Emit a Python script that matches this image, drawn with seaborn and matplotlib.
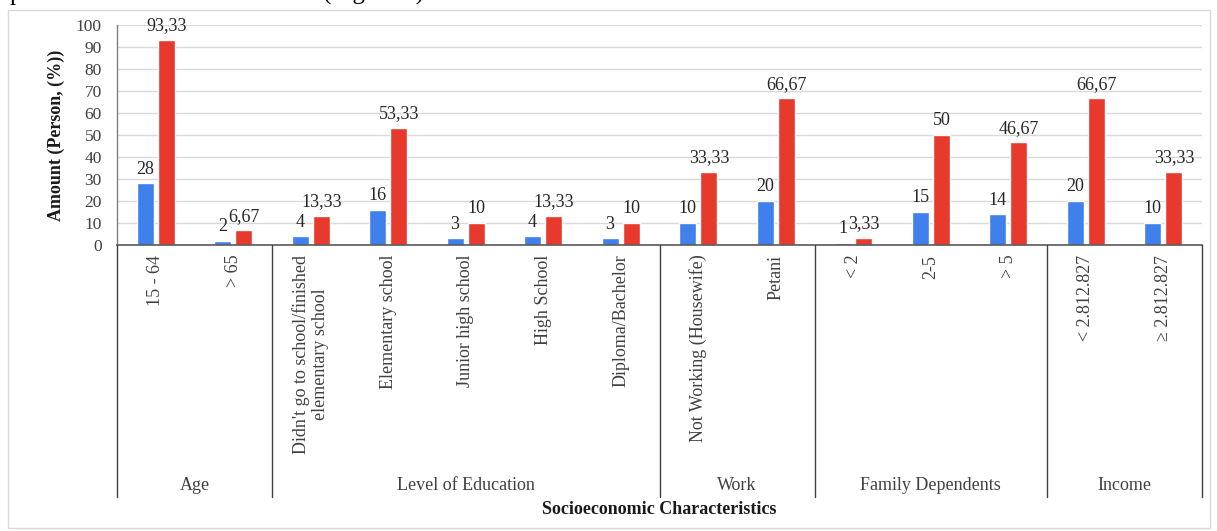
import matplotlib
matplotlib.use("Agg")
import matplotlib.pyplot as plt
import matplotlib.transforms as mtransforms
from matplotlib.patches import Rectangle
from matplotlib.lines import Line2D
import pandas as pd
import seaborn as sns

# ---- data -------------------------------------------------------------
categories = [
    "15 - 64", "> 65",
    "Didn't go to school/finished\nelementary school", "Elementary school",
    "Junior high school", "High School", "Diploma/Bachelor",
    "Not Working (Housewife)", "Petani",
    "< 2", "2-5", "> 5",
    "< 2.812.827", "\u2265 2.812.827",
]
person = [28, 2, 4, 16, 3, 4, 3, 10, 20, 1, 15, 14, 20, 10]
percent = [93.33, 6.67, 13.33, 53.33, 10, 13.33, 10, 33.33, 66.67,
           3.33, 50, 46.67, 66.67, 33.33]
groups = ["Age", "Level of Education", "Work", "Family Dependents", "Income"]
group_sizes = [2, 5, 2, 3, 2]
y_ticks = [0, 10, 20, 30, 40, 50, 60, 70, 80, 90, 100]
series_names = ["Person", "Percentage"]
series_colors = ["#3f80ec", "#e8392d"]

# ---- figure -----------------------------------------------------------
sns.set_theme(style="white")
plt.rcParams["font.family"] = ["Liberation Serif", "DejaVu Serif"]

W, H = 1217, 531
fig = plt.figure(figsize=(W / 100, H / 100), dpi=100)
fig.patch.set_facecolor("white")

left, right, top, bottom = 117, 1202, 25, 245
ax = fig.add_axes([left / W, 1 - bottom / H, (right - left) / W, (bottom - top) / H])

df = pd.DataFrame({
    "category": categories * 2,
    "series": [series_names[0]] * len(categories) + [series_names[1]] * len(categories),
    "value": person + percent,
})

sns.barplot(data=df, x="category", y="value", hue="series",
            order=categories, hue_order=series_names,
            palette=series_colors, width=0.55, gap=0.2,
            saturation=1, legend=False, ax=ax)


def fmt(v):
    if float(v).is_integer():
        return str(int(v))
    return f"{v:.2f}".replace(".", ",")


for cont in ax.containers:
    ax.bar_label(cont, labels=[fmt(v) for v in cont.datavalues],
                 padding=4, fontsize=13, color="#262626")

ax.set_xlim(-0.5, len(categories) - 0.5)
ax.set_ylim(0, 100)
ax.set_yticks(y_ticks)
ax.set_yticklabels([str(t) for t in y_ticks])
ax.yaxis.grid(True, color="#d9d9d9", linewidth=1)
ax.set_axisbelow(True)
ax.set_xlabel("")
ax.set_ylabel("Amount (Person, (%))", fontsize=13, fontweight="bold",
              color="#1a1a1a", labelpad=8)

ax.tick_params(axis="y", length=0, pad=11, labelsize=12.5, labelcolor="#404040")
ax.tick_params(axis="x", length=0, pad=7, labelsize=13, labelcolor="#404040",
               labelrotation=90)
for lab in ax.get_xticklabels():
    lab.set_multialignment("center")

for side in ["top", "right"]:
    ax.spines[side].set_visible(False)
ax.spines["left"].set_color("#7f7f7f")
ax.spines["bottom"].set_color("#595959")
ax.spines["left"].set_linewidth(1)
ax.spines["bottom"].set_linewidth(1.2)

# group separators and group names under the axis
trans = mtransforms.blended_transform_factory(ax.transData, fig.transFigure)
y_axis = 1 - bottom / H
y_sep_end = 1 - 497 / H
bounds = [-0.5]
for n in group_sizes:
    bounds.append(bounds[-1] + n)
for b in bounds:
    fig.add_artist(Line2D([b, b], [y_axis, y_sep_end], transform=trans,
                          color="#404040", linewidth=1))
for name, a, b in zip(groups, bounds[:-1], bounds[1:]):
    fig.text((a + b) / 2, 1 - 486 / H, name, transform=trans,
             ha="center", va="center", fontsize=13, color="#404040")

fig.text((bounds[0] + bounds[-1]) / 2, 1 - 509 / H, "Socioeconomic Characteristics",
         transform=trans, ha="center", va="center", fontsize=13,
         fontweight="bold", color="#1a1a1a")

# chart frame
fig.add_artist(Rectangle((8 / W, 3 / H), 1202 / W, 518 / H, transform=fig.transFigure,
                         fill=False, edgecolor="#d9d9d9", linewidth=1))

# caption line running above the frame
fig.text(10 / W, 1.0, "p", ha="left", va="baseline", fontsize=18, color="black")
fig.text(323 / W, 1.0, "(Figure 1)", ha="left", va="baseline", fontsize=18,
         color="black")

fig.savefig("out.png", dpi=100, facecolor="white")
